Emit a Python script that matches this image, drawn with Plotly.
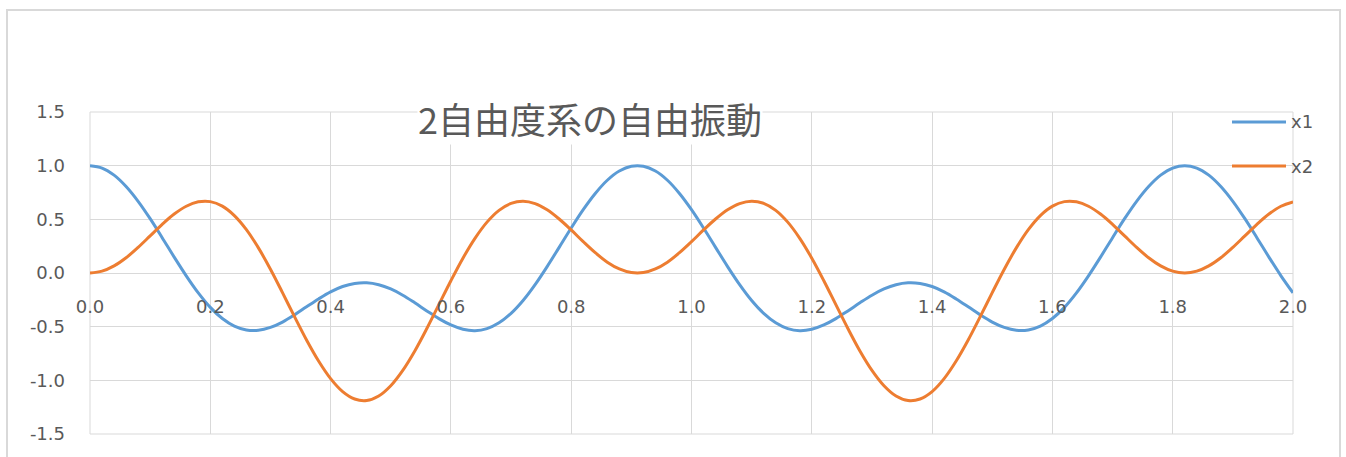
import plotly.graph_objects as go

# time axis [s]
t = [0.00, 0.02, 0.04, 0.06, 0.08, 0.10, 0.12, 0.14, 0.16, 0.18,
     0.20, 0.22, 0.24, 0.26, 0.28, 0.30, 0.32, 0.34, 0.36, 0.38,
     0.40, 0.42, 0.44, 0.46, 0.48, 0.50, 0.52, 0.54, 0.56, 0.58,
     0.60, 0.62, 0.64, 0.66, 0.68, 0.70, 0.72, 0.74, 0.76, 0.78,
     0.80, 0.82, 0.84, 0.86, 0.88, 0.90, 0.92, 0.94, 0.96, 0.98,
     1.00, 1.02, 1.04, 1.06, 1.08, 1.10, 1.12, 1.14, 1.16, 1.18,
     1.20, 1.22, 1.24, 1.26, 1.28, 1.30, 1.32, 1.34, 1.36, 1.38,
     1.40, 1.42, 1.44, 1.46, 1.48, 1.50, 1.52, 1.54, 1.56, 1.58,
     1.60, 1.62, 1.64, 1.66, 1.68, 1.70, 1.72, 1.74, 1.76, 1.78,
     1.80, 1.82, 1.84, 1.86, 1.88, 1.90, 1.92, 1.94, 1.96, 1.98,
     2.00]

# displacement of mass 1
x1 = [1.000, 0.978, 0.912, 0.806, 0.668, 0.506, 0.329, 0.148, -0.026, -0.185,
      -0.320, -0.424, -0.495, -0.531, -0.534, -0.507, -0.457, -0.390, -0.315, -0.242,
      -0.176, -0.126, -0.097, -0.091, -0.109, -0.149, -0.207, -0.278, -0.353, -0.425,
      -0.484, -0.524, -0.537, -0.518, -0.464, -0.376, -0.256, -0.108, 0.060, 0.239,
      0.419, 0.590, 0.741, 0.864, 0.950, 0.994, 0.994, 0.950, 0.864, 0.741,
      0.590, 0.419, 0.239, 0.060, -0.108, -0.256, -0.376, -0.464, -0.518, -0.537,
      -0.524, -0.484, -0.425, -0.353, -0.278, -0.207, -0.149, -0.109, -0.091, -0.097,
      -0.126, -0.176, -0.242, -0.315, -0.390, -0.457, -0.507, -0.534, -0.531, -0.495,
      -0.424, -0.320, -0.185, -0.026, 0.148, 0.329, 0.506, 0.668, 0.806, 0.912,
      0.978, 1.000, 0.978, 0.912, 0.806, 0.668, 0.506, 0.329, 0.148, -0.026,
      -0.185]

# displacement of mass 2
x2 = [0.000, 0.017, 0.066, 0.142, 0.239, 0.346, 0.453, 0.549, 0.622, 0.663,
      0.665, 0.623, 0.535, 0.404, 0.234, 0.035, -0.183, -0.407, -0.624, -0.820,
      -0.984, -1.105, -1.174, -1.188, -1.146, -1.050, -0.907, -0.726, -0.517, -0.295,
      -0.072, 0.138, 0.323, 0.474, 0.584, 0.649, 0.669, 0.647, 0.589, 0.503,
      0.401, 0.292, 0.189, 0.101, 0.038, 0.004, 0.004, 0.038, 0.101, 0.189,
      0.292, 0.401, 0.503, 0.589, 0.647, 0.669, 0.649, 0.584, 0.474, 0.323,
      0.138, -0.072, -0.295, -0.517, -0.726, -0.907, -1.050, -1.146, -1.188, -1.174,
      -1.105, -0.984, -0.820, -0.624, -0.407, -0.183, 0.035, 0.234, 0.404, 0.535,
      0.623, 0.665, 0.663, 0.622, 0.549, 0.453, 0.346, 0.239, 0.142, 0.066,
      0.017, 0.000, 0.017, 0.066, 0.142, 0.239, 0.346, 0.453, 0.549, 0.622,
      0.663]

series_names = ["x1", "x2"]
series_colors = ["#5B9BD5", "#ED7D31"]

y_tick_vals = [-1.5, -1.0, -0.5, 0.0, 0.5, 1.0, 1.5]
y_tick_text = ["-1.5", "-1.0", "-0.5", "0.0", "0.5", "1.0", "1.5"]

title_text = "2自由度系の自由振動"

TEXT = "#595959"
GRID = "#d9d9d9"
TICK_FONT = dict(family="DejaVu Sans", size=18, color=TEXT)

fig = go.Figure()
for name, ys, col in zip(series_names, [x1, x2], series_colors):
    fig.add_trace(go.Scatter(
        x=t, y=ys, name=name, mode="lines",
        line=dict(color=col, width=3, shape="spline", smoothing=1.0),
        showlegend=False,
    ))

fig.update_layout(
    width=1346, height=457,
    margin=dict(l=90, r=53, t=112, b=23),
    paper_bgcolor="white", plot_bgcolor="white",
    xaxis=dict(
        range=[0, 2], tick0=0, dtick=0.2, tickformat=".1f",
        anchor="free", position=0.5,
        showgrid=True, gridcolor=GRID, gridwidth=1,
        zeroline=False, showline=False, ticks="",
        ticklabelstandoff=21, tickfont=TICK_FONT,
    ),
    yaxis=dict(
        range=[-1.5, 1.5], tickvals=y_tick_vals, ticktext=y_tick_text,
        showgrid=True, gridcolor=GRID, gridwidth=1,
        zeroline=False, showline=False, ticks="",
        ticklabelstandoff=24, tickfont=TICK_FONT,
    ),
)

# plot-area frame (outer grid lines)
fig.add_shape(type="rect", xref="paper", yref="paper", x0=0, x1=1, y0=0, y1=1,
              line=dict(color=GRID, width=1), fillcolor="rgba(0,0,0,0)", layer="below")

# chart-area border
fig.add_shape(type="rect", xref="paper", yref="paper",
              x0=(7 - 90) / 1203, x1=(1340 - 90) / 1203,
              y0=-0.2, y1=(434 - 10) / 322,
              line=dict(color=GRID, width=2), fillcolor="rgba(0,0,0,0)", layer="below")

# title placed over the plot area
fig.add_annotation(text=title_text, xref="paper", yref="paper",
                   x=(590 - 90) / 1203, y=(434 - 118) / 322,
                   xanchor="center", yanchor="middle", showarrow=False,
                   bgcolor="white", borderpad=0,
                   font=dict(family="Noto Sans CJK JP", size=36, color=TEXT))

# legend: line sample + label for each series
legend_rows = [122, 166]
for name, col, row in zip(series_names, series_colors, legend_rows):
    yp = (434 - row) / 322
    fig.add_shape(type="line", xref="paper", yref="paper",
                  x0=(1232 - 90) / 1203, x1=(1286 - 90) / 1203, y0=yp, y1=yp,
                  line=dict(color=col, width=3))
    fig.add_annotation(text=name, xref="paper", yref="paper",
                       x=(1289 - 90) / 1203, y=yp, xanchor="left", yanchor="middle",
                       showarrow=False, font=TICK_FONT)

fig.write_html("out.html", config={"displayModeBar": False})
